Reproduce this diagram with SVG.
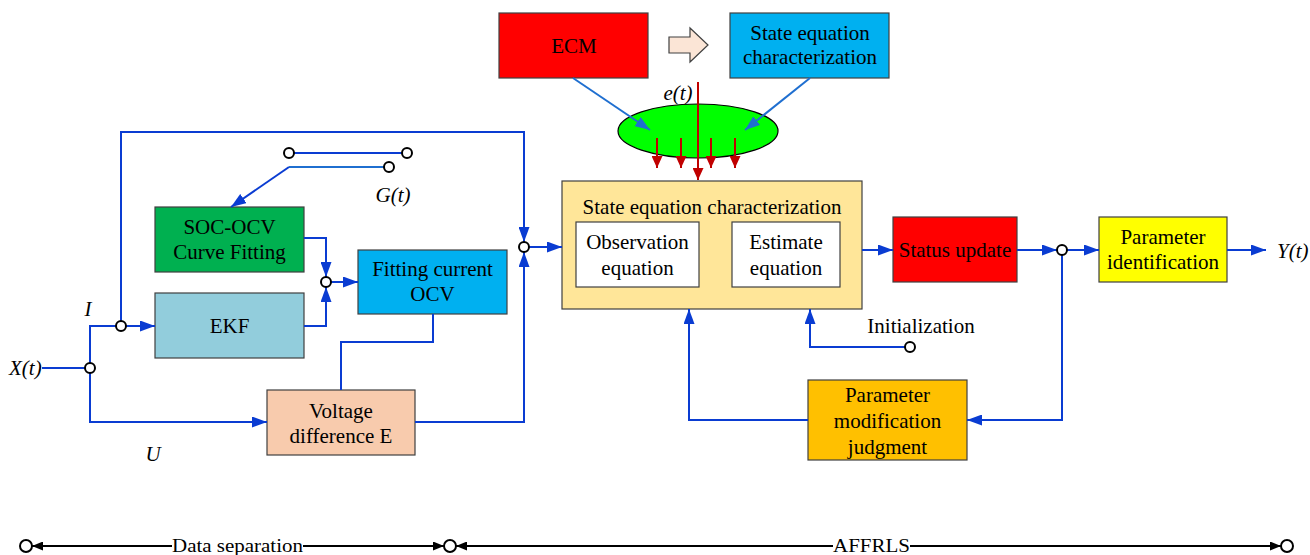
<svg xmlns="http://www.w3.org/2000/svg" width="1310" height="555" viewBox="0 0 1310 555">
<style>
.box{stroke:#404040;stroke-width:1.2}
.t{font-family:"Liberation Serif","Times New Roman",serif;font-size:21px;fill:#000;text-anchor:middle}
.it{font-family:"Liberation Serif","Times New Roman",serif;font-size:21px;font-style:italic;fill:#000;text-anchor:middle}
.st{text-anchor:start}
.sm{font-size:19px}
.c{fill:none;stroke:#0A3CD2;stroke-width:2}
.cl{fill:none;stroke:#1F6FD0;stroke-width:2}
.r{fill:none;stroke:#C00000;stroke-width:2}
.k{fill:none;stroke:#000;stroke-width:2}
.j{fill:#fff;stroke:#000;stroke-width:2}
</style>
<defs>
<marker id="ab" markerUnits="userSpaceOnUse" markerWidth="15" markerHeight="11" refX="15" refY="5.5" orient="auto"><path d="M0,0 L15,5.5 L0,11 z" fill="#0A3CD2"/></marker>
<marker id="al" markerUnits="userSpaceOnUse" markerWidth="15" markerHeight="11" refX="15" refY="5.5" orient="auto"><path d="M0,0 L15,5.5 L0,11 z" fill="#1F6FD0"/></marker>
<marker id="ar" markerUnits="userSpaceOnUse" markerWidth="12" markerHeight="11" refX="12" refY="5.5" orient="auto"><path d="M0,0 L12,5.5 L0,11 z" fill="#C00000"/></marker>
<marker id="ak" markerUnits="userSpaceOnUse" markerWidth="11" markerHeight="9" refX="11" refY="4.5" orient="auto"><path d="M0,0 L11,4.5 L0,9 z" fill="#000"/></marker>
</defs>

<g id="ecm"><rect class="box" x="499" y="13" width="149" height="65" fill="#FF0000"/><text class="t" x="574" y="53">ECM</text></g>
<g id="hollow-arrow"><polygon points="669,37 690,37 690,28 708,45 690,62 690,53 669,53" fill="#FBE5D6" stroke="#404040" stroke-width="1.2"/></g>
<g id="sec-top"><rect class="box" x="730" y="13" width="159" height="65" fill="#00B0F0"/><text class="t" x="810" y="40">State equation</text><text class="t" x="810" y="64">characterization</text></g>
<g id="ellipse"><ellipse cx="698" cy="131" rx="80" ry="27" fill="#00FF00" stroke="#000" stroke-width="1.2"/></g>
<g id="et"><text class="it" x="678" y="100">e(t)</text></g>

<g id="main"><rect class="box" x="562" y="181" width="300" height="128" fill="#FFE699"/><text class="t" x="712" y="214">State equation characterization</text>
<rect class="box" x="576" y="222" width="123" height="65" fill="#fff"/><text class="t" x="637.5" y="249">Observation</text><text class="t" x="637.5" y="275">equation</text>
<rect class="box" x="732" y="222" width="108" height="65" fill="#fff"/><text class="t" x="786" y="249">Estimate</text><text class="t" x="786" y="275">equation</text></g>

<g id="status"><rect class="box" x="893" y="217" width="124" height="65" fill="#FF0000"/><text class="t" x="955" y="257">Status update</text></g>
<g id="paramid"><rect class="box" x="1099" y="217" width="128" height="65" fill="#FFFF00"/><text class="t" x="1163" y="244">Parameter</text><text class="t" x="1163" y="269">identification</text></g>
<g id="yt"><text class="it st" x="1277" y="258">Y(t)</text></g>
<g id="parammod"><rect class="box" x="808" y="380" width="159" height="80" fill="#FFC000"/><text class="t" x="887.5" y="402">Parameter</text><text class="t" x="887.5" y="428">modification</text><text class="t" x="887.5" y="454">judgment</text></g>
<g id="init"><text class="t" x="921" y="333">Initialization</text></g>

<g id="sococv"><rect class="box" x="155" y="207" width="149" height="65" fill="#00B050"/><text class="t" x="229.5" y="234">SOC-OCV</text><text class="t" x="229.5" y="259">Curve Fitting</text></g>
<g id="ekf"><rect class="box" x="155" y="293" width="149" height="65" fill="#92CDDC"/><text class="t" x="229.5" y="333">EKF</text></g>
<g id="fitocv"><rect class="box" x="358" y="250" width="149" height="64" fill="#00B0F0"/><text class="t" x="432.5" y="276">Fitting current</text><text class="t" x="432.5" y="301">OCV</text></g>
<g id="voltage"><rect class="box" x="267" y="390" width="148" height="65" fill="#F8CBAD"/><text class="t" x="341" y="418">Voltage</text><text class="t" x="341" y="443">difference E</text></g>
<g id="labels"><text class="it st" x="9" y="375">X(t)</text><text class="it" x="88" y="316">I</text><text class="it" x="153" y="461">U</text><text class="it" x="393" y="202">G(t)</text></g>

<g id="connectors">
<path class="c" d="M42,368 H85"/>
<path class="c" d="M90,363 V326 H116"/>
<path class="c" d="M90,373 V422 H267" marker-end="url(#ab)"/>
<path class="c" d="M126,326 H155" marker-end="url(#ab)"/>
<path class="c" d="M121,321 V132 H524 V242" marker-end="url(#ab)"/>
<path class="c" d="M415,422 H524 V252" marker-end="url(#ab)"/>
<path class="c" d="M529,247 H562" marker-end="url(#ab)"/>
<path class="c" d="M304,238 H326 V277" marker-end="url(#ab)"/>
<path class="c" d="M304,326 H326 V287" marker-end="url(#ab)"/>
<path class="c" d="M331,282 H358" marker-end="url(#ab)"/>
<path class="c" d="M433,314 V342 H341 V390"/>
<path class="c" d="M294,153 H402"/>
<path class="cl" d="M289,167 H384"/>
<path class="c" d="M289,167 L231,207" marker-end="url(#ab)"/>
<path class="c" d="M862,250 H893" marker-end="url(#ab)"/>
<path class="c" d="M1017,250 H1057" marker-end="url(#ab)"/>
<path class="c" d="M1067,250 H1099" marker-end="url(#ab)"/>
<path class="c" d="M1227,250 H1266" marker-end="url(#ab)"/>
<path class="c" d="M1062,255 V420 H967" marker-end="url(#ab)"/>
<path class="c" d="M808,420 H689 V309" marker-end="url(#ab)"/>
<path class="c" d="M905,347 H810 V309" marker-end="url(#ab)"/>
<path class="cl" d="M573,78 L650,130" marker-end="url(#al)"/>
<path class="cl" d="M810,78 L745,130" marker-end="url(#al)"/>
<path class="r" d="M698,82 V180" marker-end="url(#ar)"/>
<path class="r" d="M657,138 V168" marker-end="url(#ar)"/>
<path class="r" d="M681,138 V168" marker-end="url(#ar)"/>
<path class="r" d="M711,138 V168" marker-end="url(#ar)"/>
<path class="r" d="M735,138 V168" marker-end="url(#ar)"/>
<circle class="j" cx="90" cy="368" r="5"/>
<circle class="j" cx="121" cy="326" r="5"/>
<circle class="j" cx="326" cy="282" r="5"/>
<circle class="j" cx="524" cy="247" r="5"/>
<circle class="j" cx="289" cy="153" r="5"/>
<circle class="j" cx="407" cy="153" r="5"/>
<circle class="j" cx="389" cy="167" r="5"/>
<circle class="j" cx="1062" cy="250" r="5"/>
<circle class="j" cx="910" cy="347" r="5"/>
</g>

<g id="timeline">
<path class="k" d="M172,546 H32" marker-end="url(#ak)"/>
<path class="k" d="M303,546 H444" marker-end="url(#ak)"/>
<path class="k" d="M833,546 H456" marker-end="url(#ak)"/>
<path class="k" d="M910,546 H1281" marker-end="url(#ak)"/>
<circle class="j" cx="26" cy="546" r="6"/>
<circle class="j" cx="450" cy="546" r="6"/>
<circle class="j" cx="1287" cy="546" r="6"/>
<text class="t sm" x="237.5" y="552" textLength="131" lengthAdjust="spacingAndGlyphs">Data separation</text>
<text class="t sm" x="871.5" y="552" textLength="77" lengthAdjust="spacingAndGlyphs">AFFRLS</text>
</g>
</svg>
